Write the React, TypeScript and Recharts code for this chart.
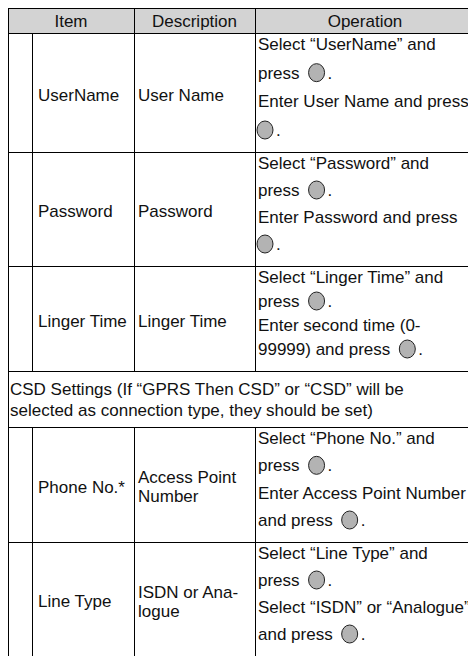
import React from 'react';
import { Surface, Layer, Rectangle } from 'recharts';

// table content
const headers = ['Item', 'Description', 'Operation'];
const items = ['UserName', 'Password', 'Linger Time', 'Phone No.*', 'Line Type'];
const descriptions = [
  ['User Name'],
  ['Password'],
  ['Linger Time'],
  ['Access Point', 'Number'],
  ['ISDN or Ana-', 'logue'],
];
// "@" marks the round key icon
const operations = [
  ['Select “UserName” and', 'press @.', 'Enter User Name and press', '@.'],
  ['Select “Password” and', 'press @.', 'Enter Password and press', '@.'],
  ['Select “Linger Time” and', 'press @.', 'Enter second time (0-', '99999) and press @.'],
  ['Select “Phone No.” and', 'press @.', 'Enter Access Point Number', 'and press @.'],
  ['Select “Line Type” and', 'press @.', 'Select “ISDN” or “Analogue”', 'and press @.'],
];
const csdNote = [
  'CSD Settings (If “GPRS Then CSD” or “CSD” will be',
  'selected as connection type, they should be set)',
];

// layout
const W = 468;
const H = 648;
const FONT = '"Liberation Sans", Arial, sans-serif';
const FS = 17;
const cols = [0, 24, 126, 247, 467];
const headerH = 25;
const rowH = [119, 114, 105, 115, 114];
const csdH = 56;
const csdAfter = 3; // note sits after the third row

let ctx: CanvasRenderingContext2D | null = null;
const measure = (s: string) => {
  if (!ctx) ctx = document.createElement('canvas').getContext('2d');
  if (!ctx) return s.length * FS * 0.5;
  ctx.font = `${FS}px "Liberation Sans"`;
  return ctx.measureText(s).width;
};

const Key = ({ x, cy }: { x: number; cy: number }) => (
  <ellipse cx={x + 8} cy={cy} rx={8} ry={9} fill="#b3b3b3" stroke="#222" strokeWidth={1} />
);

const OpLine = ({ x, cy, text }: { x: number; cy: number; text: string }) => {
  const parts = text.split('@');
  const base = cy + FS * 0.36;
  if (parts.length === 1) {
    return <text x={x} y={base}>{text}</text>;
  }
  const pre = parts[0];
  const preW = pre.trim() ? measure(pre.trimEnd()) + 9 : -1;
  const kx = x + preW;
  return (
    <g>
      {pre.trim() && <text x={x} y={base}>{pre.trimEnd()}</text>}
      <Key x={kx} cy={cy} />
      <text x={kx + 19} y={base}>{parts[1]}</text>
    </g>
  );
};

const hLine = (y: number, key: string) => (
  <line key={key} x1={0} x2={W} y1={y + 0.5} y2={y + 0.5} stroke="#000" strokeWidth={1} />
);
const vLine = (x: number, y1: number, y2: number, key: string) => (
  <line key={key} x1={x + 0.5} x2={x + 0.5} y1={y1} y2={y2} stroke="#000" strokeWidth={1} />
);

const App = () => {
  // row tops
  const tops: number[] = [];
  let y = headerH;
  let csdTop = 0;
  items.forEach((_, i) => {
    if (i === csdAfter) {
      csdTop = y;
      y += csdH;
    }
    tops.push(y);
    y += rowH[i];
  });
  const csdBottom = csdTop + csdH;

  const lines: React.ReactNode[] = [];
  lines.push(hLine(0, 'top'));
  lines.push(hLine(headerH, 'hb'));
  tops.forEach((t, i) => lines.push(hLine(t + rowH[i], `rb${i}`)));
  lines.push(hLine(csdTop, 'ct'));
  lines.push(hLine(csdBottom, 'cb'));
  lines.push(vLine(cols[0], 0, H, 'l'));
  lines.push(vLine(cols[4], 0, H, 'r'));
  lines.push(vLine(cols[1], headerH, csdTop, 'i1'));
  lines.push(vLine(cols[1], csdBottom, H, 'i2'));
  [2, 3].forEach((c) => {
    lines.push(vLine(cols[c], 0, csdTop, `c${c}a`));
    lines.push(vLine(cols[c], csdBottom, H, `c${c}b`));
  });

  return (
    <div style={{ width: W, height: H, overflow: 'hidden' }}>
      <Surface width={W} height={H}>
        <Layer>
          <Rectangle x={0} y={0} width={W} height={headerH} fill="#d3d3d3" />
        </Layer>
        <Layer style={{ fontFamily: FONT, fontSize: FS, fill: '#111' } as any}>
          {headers.map((h, i) => {
            const x0 = i === 0 ? cols[0] : cols[i + 1];
            const x1 = cols[i + 2];
            return (
              <text key={h} x={(x0 + x1) / 2} y={headerH / 2 + FS * 0.36} textAnchor="middle">
                {h}
              </text>
            );
          })}
          {items.map((it, i) => {
            const t = tops[i];
            const mid = t + rowH[i] / 2 + 2;
            const desc = descriptions[i];
            const ops = operations[i];
            const step = (rowH[i] - 33) / (ops.length - 1);
            return (
              <g key={it}>
                <text x={cols[1] + 6} y={mid + FS * 0.36}>{it}</text>
                {desc.map((d, j) => (
                  <text key={d} x={cols[2] + 4} y={mid + (j - (desc.length - 1) / 2) * 19 + FS * 0.36}>
                    {d}
                  </text>
                ))}
                {ops.map((o, j) => (
                  <OpLine key={j} x={cols[3] + 3} cy={t + 11 + j * step} text={o} />
                ))}
              </g>
            );
          })}
          {csdNote.map((n, j) => (
            <text key={j} x={cols[0] + 2} y={csdTop + 18 + j * 21 + FS * 0.36}>
              {n}
            </text>
          ))}
        </Layer>
        <Layer>{lines}</Layer>
      </Surface>
    </div>
  );
};

export default App;
